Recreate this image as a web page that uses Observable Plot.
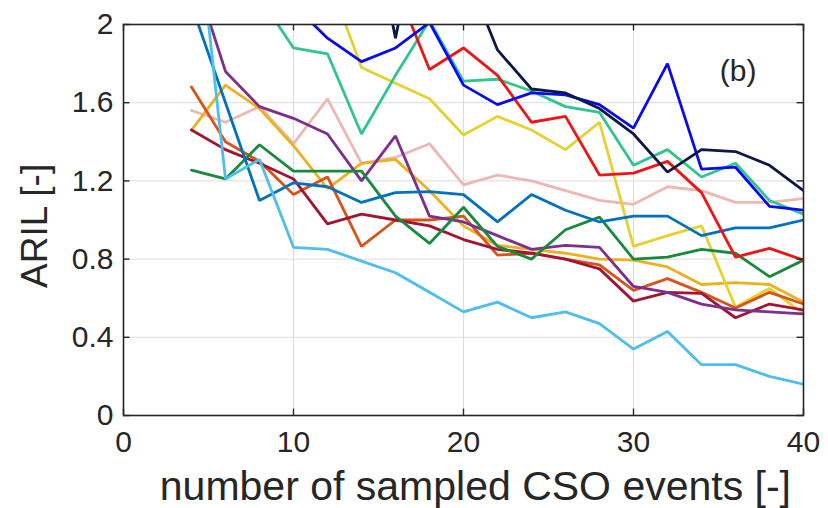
<!DOCTYPE html>
<html>
<head>
<meta charset="utf-8">
<script src="https://cdn.jsdelivr.net/npm/d3@7"></script>
<script src="https://cdn.jsdelivr.net/npm/@observablehq/plot@0.6"></script>
<style>
  body { margin: 0; background: #fff; }
  #chart svg { display: block; }
</style>
</head>
<body>
<div id="chart"></div>
<script>
// x positions: number of sampled CSO events
const xs = [4, 6, 8, 10, 12, 14, 16, 18, 20, 22, 24, 26, 28, 30, 32, 34, 36, 38, 40];

// ARIL series (values above 2 are clipped by the axes, as in the original)
const pink      = [1.56, 1.50, 1.58, 1.39, 1.62, 1.29, 1.32, 1.39, 1.18, 1.23, 1.20, 1.15, 1.10, 1.08, 1.17, 1.15, 1.09, 1.09, 1.11];
const golden    = [1.46, 1.69, 1.57, 1.38, 1.16, 1.29, 1.31, 1.15, 0.97, 0.87, 0.85, 0.83, 0.80, 0.795, 0.76, 0.67, 0.68, 0.67, 0.58];
const yellow    = [3.0, 2.9, 2.7, 2.5, 2.25, 1.78, 1.70, 1.62, 1.435, 1.53, 1.46, 1.36, 1.50, 0.865, 0.92, 0.97, 0.555, 0.65, 0.52];
const orange    = [1.68, 1.40, 1.30, 1.13, 1.22, 0.865, 1.00, 1.00, 1.02, 0.82, 0.83, 0.80, 0.77, 0.64, 0.70, 0.63, 0.55, 0.63, 0.57];
const darkRed   = [1.46, 1.36, 1.29, 1.21, 0.98, 1.03, 1.00, 0.97, 0.90, 0.85, 0.83, 0.80, 0.75, 0.585, 0.63, 0.625, 0.50, 0.57, 0.54];
const purple    = [2.3, 1.76, 1.58, 1.52, 1.44, 1.20, 1.43, 1.02, 0.99, 0.92, 0.85, 0.87, 0.86, 0.66, 0.63, 0.57, 0.54, 0.53, 0.52];
const darkGreen = [1.255, 1.21, 1.385, 1.25, 1.25, 1.25, 1.02, 0.88, 1.065, 0.865, 0.80, 0.95, 1.015, 0.80, 0.81, 0.85, 0.83, 0.71, 0.795];
const steelBlue = [2.1, 1.6, 1.10, 1.19, 1.17, 1.09, 1.14, 1.145, 1.13, 0.99, 1.13, 1.05, 0.99, 1.02, 1.02, 0.92, 0.96, 0.96, 1.00];
const skyBlue   = [2.8, 1.21, 1.31, 0.86, 0.85, 0.79, 0.73, 0.63, 0.53, 0.58, 0.50, 0.53, 0.47, 0.34, 0.43, 0.26, 0.26, 0.20, 0.16];
const mint      = [2.7, 2.4, 2.14, 1.88, 1.85, 1.44, 1.74, 2.02, 1.71, 1.72, 1.66, 1.58, 1.55, 1.28, 1.36, 1.22, 1.29, 1.10, 1.03];
const red       = [3.4, 3.2, 3.0, 2.8, 2.65, 2.5, 2.2, 1.77, 1.88, 1.74, 1.50, 1.53, 1.23, 1.24, 1.30, 1.14, 0.81, 0.855, 0.795];
const blue      = [2.9, 2.7, 2.4, 2.1, 1.93, 1.81, 1.88, 2.01, 1.69, 1.59, 1.65, 1.64, 1.59, 1.47, 1.80, 1.26, 1.27, 1.07, 1.05];
const navy      = [3.2, 3.1, 3.0, 2.9, 2.85, 2.8, 1.93, 2.8, 2.3, 1.87, 1.67, 1.65, 1.57, 1.44, 1.245, 1.36, 1.35, 1.28, 1.15];

const seriesNames  = ["pink", "golden", "yellow", "orange", "darkRed", "purple", "darkGreen", "steelBlue", "skyBlue", "mint", "red", "blue", "navy"];
const seriesValues = [pink, golden, yellow, orange, darkRed, purple, darkGreen, steelBlue, skyBlue, mint, red, blue, navy];
const seriesColors = ["#EDB7B2", "#EDB120", "#E6D12E", "#D95319", "#A2142F", "#7E2F8E", "#178A3E", "#0072BD", "#4DBEEE", "#2FC68E", "#F01414", "#0A0AF0", "#0D1848"];

const xTicks = [0, 10, 20, 30, 40];
const xTickLabels = ["0", "10", "20", "30", "40"];
const yTicks = [0, 0.4, 0.8, 1.2, 1.6, 2];
const yTickLabels = ["0", "0.4", "0.8", "1.2", "1.6", "2"];
const xGrid = [10, 20, 30];
const yGrid = [0.4, 0.8, 1.2, 1.6];
const xLabel = "number of sampled CSO events [-]";
const yLabel = "ARIL [-]";
const panelTag = "(b)";

const rows = [];
seriesNames.forEach((name, i) => {
  seriesValues[i].forEach((v, j) => rows.push({series: name, x: xs[j], y: v}));
});

const colorOf = Object.fromEntries(seriesNames.map((n, i) => [n, seriesColors[i]]));
const ink = "#262626";

const chart = Plot.plot({
  width: 828,
  height: 508,
  marginLeft: 123,
  marginRight: 25,
  marginTop: 24,
  marginBottom: 93,
  style: {fontFamily: "'Liberation Sans', Arial, sans-serif", background: "#ffffff", overflow: "visible"},
  x: {domain: [0, 40], axis: null},
  y: {domain: [0, 2], axis: null},
  marks: [
    Plot.ruleX(xGrid, {stroke: "#dcdcdc", strokeWidth: 1}),
    Plot.ruleY(yGrid, {stroke: "#dcdcdc", strokeWidth: 1}),
    Plot.line(rows, {x: "x", y: "y", z: "series", stroke: d => colorOf[d.series], strokeWidth: 2.8, strokeLinejoin: "miter", clip: true}),
    Plot.frame({stroke: ink, strokeWidth: 1.6}),
    // inward tick marks on all four sides
    Plot.ruleY(yTicks, {x1: 0, x2: 0.38, stroke: ink, strokeWidth: 1.4}),
    Plot.ruleY(yTicks, {x1: 39.62, x2: 40, stroke: ink, strokeWidth: 1.4}),
    Plot.ruleX(xTicks, {y1: 0, y2: 0.033, stroke: ink, strokeWidth: 1.4}),
    Plot.ruleX(xTicks, {y1: 1.967, y2: 2, stroke: ink, strokeWidth: 1.4}),
    // tick labels
    Plot.text(xTicks, {x: d => d, y: 0, dy: 27, text: (d, i) => xTickLabels[i], fontSize: 30, fill: ink}),
    Plot.text(yTicks, {x: 0, y: d => d, dx: -10, textAnchor: "end", text: (d, i) => yTickLabels[i], fontSize: 30, fill: ink}),
    // axis titles
    Plot.text([xLabel], {x: 20.7, y: 0, dy: 71, text: d => d, fontSize: 41, fill: ink}),
    Plot.text([yLabel], {x: 0, y: 0.97, dx: -88, rotate: -90, text: d => d, fontSize: 37, fill: ink}),
    // panel tag
    Plot.text([panelTag], {x: 36.15, y: 1.76, text: d => d, fontSize: 30, fill: ink})
  ]
});

document.getElementById("chart").appendChild(chart);
</script>
</body>
</html>
